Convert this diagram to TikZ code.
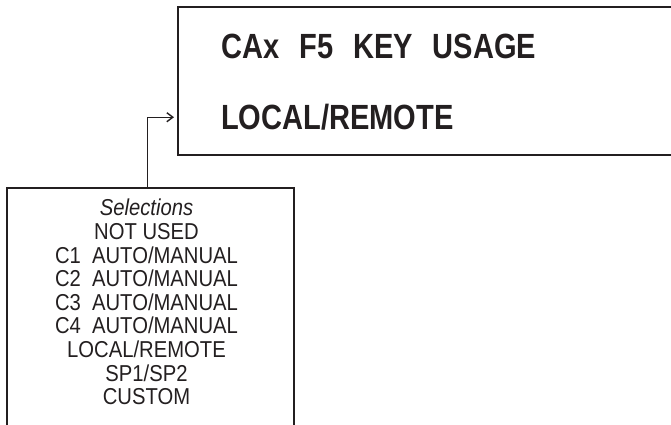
\documentclass[tikz,border=0pt]{standalone}
\usepackage{fontspec}
\setmainfont{Liberation Sans}
\newfontfamily\titlefont[FakeStretch=0.83]{Liberation Sans}
\newfontfamily\listfont[FakeStretch=0.88]{Liberation Sans}
\usepackage{tikz}
\usetikzlibrary{positioning,arrows.meta}
\definecolor{ink}{HTML}{231F20}

\begin{document}
\begin{tikzpicture}[
    x=1pt, y=1pt,
    frame/.style={draw=ink, line width=2pt, inner sep=0pt},
    bigtext/.style={inner sep=0pt, text=ink, font=\titlefont\fontsize{35}{40}\selectfont\bfseries},
    listtext/.style={inner sep=0pt, text=ink, align=center, font=\listfont\fontsize{23}{23.6}\selectfont},
    arr/.style={-{Straight Barb[length=6pt,width=9pt]}, line width=1.4pt, draw=ink, shorten >=3pt},
]
\clip (0,0) rectangle (671,425);

% Display screen
\node[frame, minimum width=522pt, minimum height=148pt] (screen) at (439,344) {};
\node[bigtext, below right=28pt and 44pt of screen.north west] (title) {CAx\hspace{20pt}F5\hspace{20pt}KEY\hspace{20pt}USAGE};
\node[bigtext, below right=98pt and 44pt of screen.north west] (mode) {LOCAL/REMOTE};

% Selection list
\node[frame, minimum width=287pt, minimum height=300pt, anchor=north] (selbox) at (150.5,238) {};
\node[listtext, below=12pt of selbox.north, xshift=-4pt] (sellist) {\textit{Selections}\\
    NOT USED\\
    C1\ \ AUTO/MANUAL\\
    C2\ \ AUTO/MANUAL\\
    C3\ \ AUTO/MANUAL\\
    C4\ \ AUTO/MANUAL\\
    LOCAL/REMOTE\\
    SP1/SP2\\
    CUSTOM};

% Arrow
\draw[arr] ([xshift=-3pt]selbox.north) |- (screen.west |- mode.west);
\end{tikzpicture}
\end{document}
